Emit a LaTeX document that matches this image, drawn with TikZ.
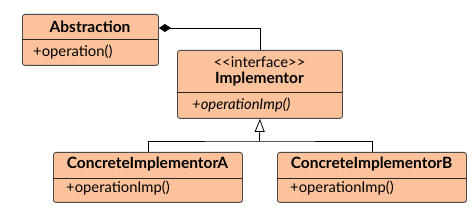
\documentclass[tikz,border=0pt]{standalone}
\usepackage{fontspec}
\setmainfont{Lato}
\usetikzlibrary{arrows.meta}

\definecolor{peach}{HTML}{FCC29B}
\definecolor{boxline}{HTML}{4A4A4A}

\tikzset{
  classbox/.style={draw=boxline, fill=peach, line width=0.9pt, rounded corners=2.5pt,
    anchor=north west, inner sep=0pt},
  divider/.style={line width=0.8pt, draw=black!85},
  classname/.style={font=\fontsize{15.5}{17}\selectfont\bfseries, inner sep=0pt, anchor=base},
  stereo/.style={font=\fontsize{14.8}{17}\selectfont, inner sep=0pt, anchor=base},
  opname/.style={font=\fontsize{14.8}{17}\selectfont, inner sep=0pt, anchor=base west},
  link/.style={line width=0.8pt},
  aggr/.style={link, {Diamond[length=12pt,width=8pt]}-},
  gen/.style={link, -{Triangle[open,length=13pt,width=10pt]}}
}

\begin{document}
\begin{tikzpicture}[x=1pt, y=-1pt]
    \useasboundingbox (0,0) rectangle (475,208);

    % Abstraction
    \node[classbox, minimum width=136pt, minimum height=51pt] (abs) at (22,14) {};
    \draw[divider] (22,39) -- (158,39);
    \node[classname] (absname) at (90,32.3) {Abstraction};
    \node[opname] (absop) at (33,57) {+operation()};

    % Implementor
    \node[classbox, minimum width=165pt, minimum height=68pt] (impl) at (177,50) {};
    \draw[divider] (177,92) -- (342,92);
    \node[stereo] (implstereo) at (259.5,67.3) {<\kern0pt<interface>\kern0pt>};
    \node[classname] (implname) at (259.5,83.3) {Implementor};
    \node[opname, font=\fontsize{14.8}{17}\selectfont\itshape] (implop) at (192,109.3) {+operationImp()};

    % Concrete A
    \node[classbox, minimum width=189pt, minimum height=50pt] (concA) at (53,152) {};
    \draw[divider] (53,178) -- (242,178);
    \node[classname] (concAname) at (147.5,168.7) {ConcreteImplementorA};
    \node[opname] (concAop) at (66,193) {+operationImp()};

    % Concrete B
    \node[classbox, minimum width=189pt, minimum height=50pt] (concB) at (277,152) {};
    \draw[divider] (277,178) -- (466,178);
    \node[classname] (concBname) at (371.5,168.7) {ConcreteImplementorB};
    \node[opname] (concBop) at (290,193) {+operationImp()};

    % Aggregation
    \draw[aggr] (abs.east |- 0,28) -- (impl.north |- 0,28) -- (impl.north);

    % Generalization
    \coordinate (bus) at (259.5,141);
    \draw[link] (concA.north) |- (bus) -| (concB.north);
    \draw[gen] (bus) -- (impl.south);
\end{tikzpicture}
\end{document}
